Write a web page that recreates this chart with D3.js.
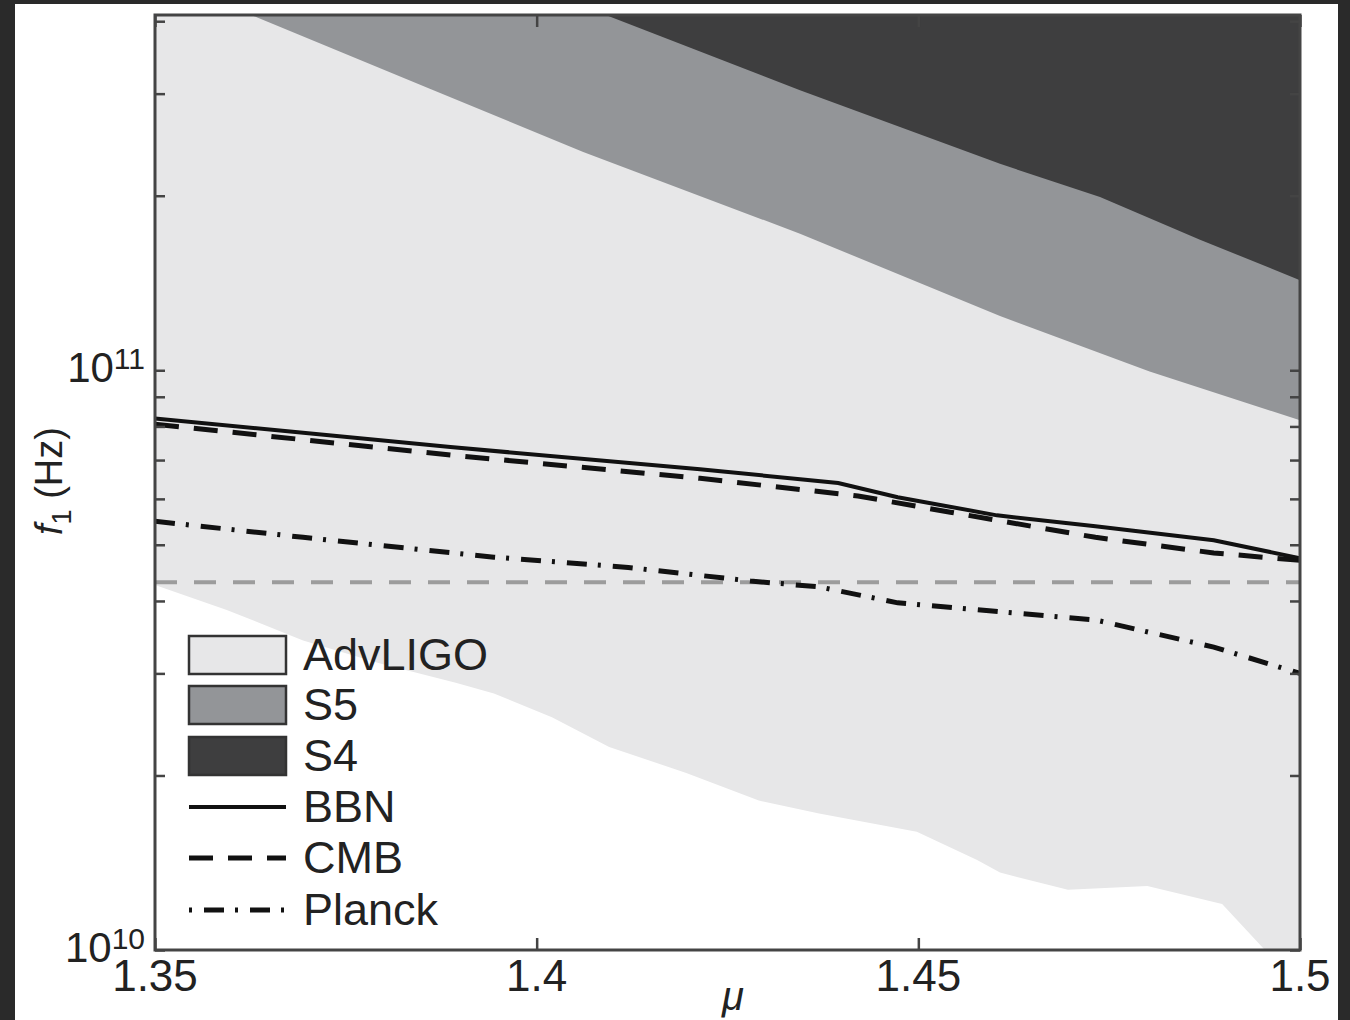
<!DOCTYPE html>
<html>
<head>
<meta charset="utf-8">
<script src="https://cdn.jsdelivr.net/npm/d3@7"></script>
<style>
  html, body { margin: 0; padding: 0; background: #2a2a2a; }
  svg { display: block; }
  text { font-family: "Liberation Sans", Arial, Helvetica, sans-serif; fill: #222; }
</style>
</head>
<body>
<svg id="chart" width="1350" height="1020"></svg>
<script>
// Mass ratio mu on the x axis, frequency f1 (Hz) on a log y axis.
const xTicks = [1.35, 1.4, 1.45, 1.5];
const xTickLabels = ["1.35", "1.4", "1.45", "1.5"];
const yMajor = [1e10, 1e11];
const yMajorBase = "10";
const yMajorExp = ["10", "11"];

// Lower edges of the excluded regions (mu, f1)
const advLigoMu  = [1.35, 1.3594, 1.3694, 1.3795, 1.3894, 1.3944, 1.4020, 1.4095, 1.4196, 1.4291, 1.4370, 1.4498, 1.4577, 1.4607, 1.4696, 1.4800, 1.4898, 1.4954, 1.5];
const advLigoF   = [4.26e10, 3.86e10, 3.42e10, 3.12e10, 2.89e10, 2.77e10, 2.52e10, 2.24e10, 2.02e10, 1.81e10, 1.72e10, 1.60e10, 1.43e10, 1.36e10, 1.27e10, 1.29e10, 1.20e10, 1.0e10, 8.6e9];
const s5Mu       = [1.35, 1.3634, 1.386, 1.4061, 1.4345, 1.4607, 1.4803, 1.5];
const s5F        = [4.82e11, 4.06e11, 3.06e11, 2.38e11, 1.72e11, 1.24e11, 9.95e10, 8.2e10];
const s4Mu       = [1.407, 1.4345, 1.4607, 1.4738, 1.4869, 1.5];
const s4F        = [4.2e11, 3.04e11, 2.27e11, 1.99e11, 1.68e11, 1.43e11];

// Bound curves
const bbnMu    = [1.35, 1.3887, 1.4214, 1.4395, 1.4473, 1.4603, 1.4732, 1.4887, 1.5];
const bbnF     = [8.26e10, 7.37e10, 6.75e10, 6.39e10, 6.04e10, 5.62e10, 5.38e10, 5.09e10, 4.74e10];
const cmbMu    = [1.35, 1.3887, 1.4214, 1.4421, 1.4542, 1.4732, 1.4887, 1.5];
const cmbF     = [8.07e10, 7.14e10, 6.51e10, 6.07e10, 5.69e10, 5.15e10, 4.84e10, 4.70e10];
const planckMu = [1.35, 1.3694, 1.3944, 1.4120, 1.4280, 1.4370, 1.4473, 1.4628, 1.4732, 1.4887, 1.5];
const planckF  = [5.49e10, 5.15e10, 4.76e10, 4.57e10, 4.33e10, 4.23e10, 3.97e10, 3.81e10, 3.71e10, 3.33e10, 3.00e10];
const refLevel = 4.31e10;

const legendNames = ["AdvLIGO", "S5", "S4", "BBN", "CMB", "Planck"];

const svg = d3.select("#chart");
const L = 155, R = 1300, T = 15, B = 950;

// white panel
svg.append("rect").attr("x", 15).attr("y", 4).attr("width", 1323).attr("height", 1030).attr("fill", "#fff");

const x = d3.scaleLinear().domain([1.35, 1.5]).range([L, R]);
const y = d3.scaleLog().domain([1e10, 4.1e11]).range([B, T]);
const topVal = 6e11;

svg.append("clipPath").attr("id", "plotClip")
  .append("rect").attr("x", L).attr("y", T).attr("width", R - L).attr("height", B - T);

const plot = svg.append("g").attr("clip-path", "url(#plotClip)");

const zip = (mu, f) => mu.map((m, i) => ({ mu: m, f: f[i] }));
const area = d3.area().x(d => x(d.mu)).y0(d => y(d.f)).y1(() => y(topVal));
const line = d3.line().x(d => x(d.mu)).y(d => y(d.f));

plot.append("path").datum(zip(advLigoMu, advLigoF)).attr("d", area).attr("fill", "#e7e7e8");
plot.append("path").datum(zip(s5Mu, s5F)).attr("d", area).attr("fill", "#939598");
plot.append("path").datum(zip(s4Mu, s4F)).attr("d", area).attr("fill", "#3e3e3f");

// horizontal reference level
plot.append("line")
  .attr("x1", L).attr("x2", R).attr("y1", y(refLevel)).attr("y2", y(refLevel))
  .attr("stroke", "#9c9c9c").attr("stroke-width", 4).attr("stroke-dasharray", "22,17");

plot.append("path").datum(zip(planckMu, planckF)).attr("d", line)
  .attr("fill", "none").attr("stroke", "#111").attr("stroke-width", 5)
  .attr("stroke-dasharray", "20,11,3,12");
plot.append("path").datum(zip(cmbMu, cmbF)).attr("d", line)
  .attr("fill", "none").attr("stroke", "#111").attr("stroke-width", 5)
  .attr("stroke-dasharray", "24,15");
plot.append("path").datum(zip(bbnMu, bbnF)).attr("d", line)
  .attr("fill", "none").attr("stroke", "#111").attr("stroke-width", 4);

// axes with inward ticks on all four sides
const yTickVals = [];
for (let e = 10; e <= 11; e++) for (let k = 1; k <= 9; k++) {
  const v = k * Math.pow(10, e);
  if (v <= 4.1e11) yTickVals.push(v);
}
const axesColor = "#444";
const leftAxis = d3.axisLeft(y).tickValues(yTickVals).tickSize(-10).tickFormat("");
const rightAxis = d3.axisRight(y).tickValues(yTickVals).tickSize(-10).tickFormat("");
const bottomAxis = d3.axisBottom(x).tickValues(xTicks).tickSize(-12).tickFormat("");
const topAxis = d3.axisTop(x).tickValues(xTicks).tickSize(-12).tickFormat("");

function styleAxis(g) {
  g.select(".domain").remove();
  g.selectAll(".tick line").attr("stroke", axesColor).attr("stroke-width", 2.5);
}
svg.append("g").attr("transform", `translate(${L},0)`).call(leftAxis).call(styleAxis);
svg.append("g").attr("transform", `translate(${R},0)`).call(rightAxis).call(styleAxis);
svg.append("g").attr("transform", `translate(0,${B})`).call(bottomAxis).call(styleAxis);
svg.append("g").attr("transform", `translate(0,${T})`).call(topAxis).call(styleAxis);

svg.append("rect").attr("x", L).attr("y", T).attr("width", R - L).attr("height", B - T)
  .attr("fill", "none").attr("stroke", axesColor).attr("stroke-width", 3);

// x tick labels
svg.append("g").selectAll("text").data(xTicks).join("text")
  .attr("x", d => x(d)).attr("y", 991)
  .attr("text-anchor", "middle").attr("font-size", 44)
  .text((d, i) => xTickLabels[i]);

// y decade labels: base 10 with a superscript exponent
const yl = svg.append("g").selectAll("text").data(yMajor).join("text")
  .attr("x", 145).attr("y", d => y(d) + 12)
  .attr("text-anchor", "end").attr("font-size", 42);
yl.append("tspan").text(yMajorBase);
yl.append("tspan").attr("dy", -13).attr("font-size", 30).text((d, i) => yMajorExp[i]);

// axis titles
const yt = svg.append("text")
  .attr("transform", "translate(62,481) rotate(-90)")
  .attr("text-anchor", "middle").attr("font-size", 38);
yt.append("tspan").attr("font-style", "italic").text("f");
yt.append("tspan").attr("dy", 9).attr("font-size", 27).text("1");
yt.append("tspan").attr("dy", -9).text(" (Hz)");

svg.append("text").attr("x", 733).attr("y", 1010)
  .attr("text-anchor", "middle").attr("font-size", 40).attr("font-style", "italic").text("μ");

// legend
const lg = svg.append("g");
const swatchFill = ["#e7e7e8", "#939598", "#3e3e3f"];
const rowY = [655, 705, 756, 807, 858, 910];
swatchFill.forEach((c, i) => {
  lg.append("rect").attr("x", 189).attr("y", rowY[i] - 19).attr("width", 97).attr("height", 38)
    .attr("fill", c).attr("stroke", "#333").attr("stroke-width", 2.5);
});
const legendDash = [null, "24,15", "3,12,20,11"];
legendDash.forEach((dsh, i) => {
  const ln = lg.append("line").attr("x1", 189).attr("x2", 286)
    .attr("y1", rowY[3 + i]).attr("y2", rowY[3 + i])
    .attr("stroke", "#111").attr("stroke-width", i === 0 ? 4 : 5);
  if (dsh) ln.attr("stroke-dasharray", dsh);
});
lg.selectAll("text").data(legendNames).join("text")
  .attr("x", 303).attr("y", (d, i) => rowY[i] + 15)
  .attr("font-size", 45).text(d => d);
</script>
</body>
</html>
